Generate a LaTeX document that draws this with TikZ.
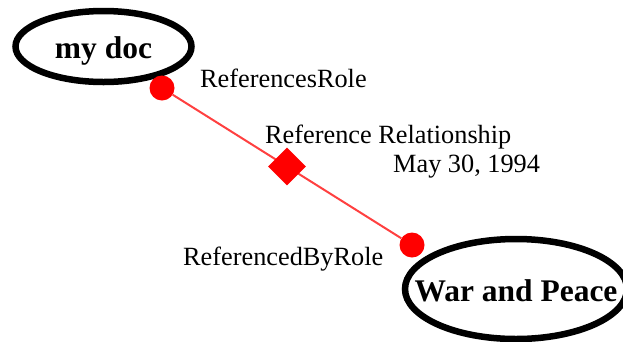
\documentclass[tikz,border=0pt]{standalone}
\usepackage{fontspec}
\setmainfont{Liberation Serif}
\usepackage{tikz}
\usetikzlibrary{shapes.geometric,
                calc, %for the midpoint of the link
                positioning}

\begin{document}
\begin{tikzpicture}[x=1pt, y=-1pt,
                    doc/.style={inner sep=0, text height=24pt, text depth=0pt,
                                font=\fontsize{31.5}{36}\selectfont\bfseries},
                    docring/.style={line width=6.5pt},
                    roledot/.style={circle, fill=red, inner sep=0, minimum size=25pt},
                    relship/.style={diamond, fill=red, inner sep=0, minimum size=38pt},
                    relline/.style={line width=2pt, red!75!white},
                    rolelabel/.style={anchor=base west, inner sep=0,
                                      font=\fontsize{26.3}{30}\selectfont}
                    ]
    \useasboundingbox (0,0) rectangle (623,341);
    % document nodes
    \node[doc] at (103.5,46.5) (mydoc){my doc};
    \node[doc] at (516,289)    (warpeace){War and Peace};
    \draw[docring] (mydoc.center)    ellipse [x radius=88,  y radius=35.5];
    \draw[docring] (warpeace.center) ellipse [x radius=111, y radius=50];

    % role ends
    \node[roledot] at (162,88)  (refdot){};
    \node[roledot] at (412,245) (refbydot){};

    % relationship link
    \draw[relline] (refdot) -- (refbydot);
    \node[relship] at ($(refdot)!0.5!(refbydot)$) (rel){};

    % labels
    \node[rolelabel] at (200,87)  (refrole){ReferencesRole};
    \node[rolelabel] at (265,143) (relname){Reference Relationship};
    \node[rolelabel] at (393,172) (reldate){May 30, 1994};
    \node[rolelabel] at (183,265) (refbyrole){ReferencedByRole};
\end{tikzpicture}
\end{document}
